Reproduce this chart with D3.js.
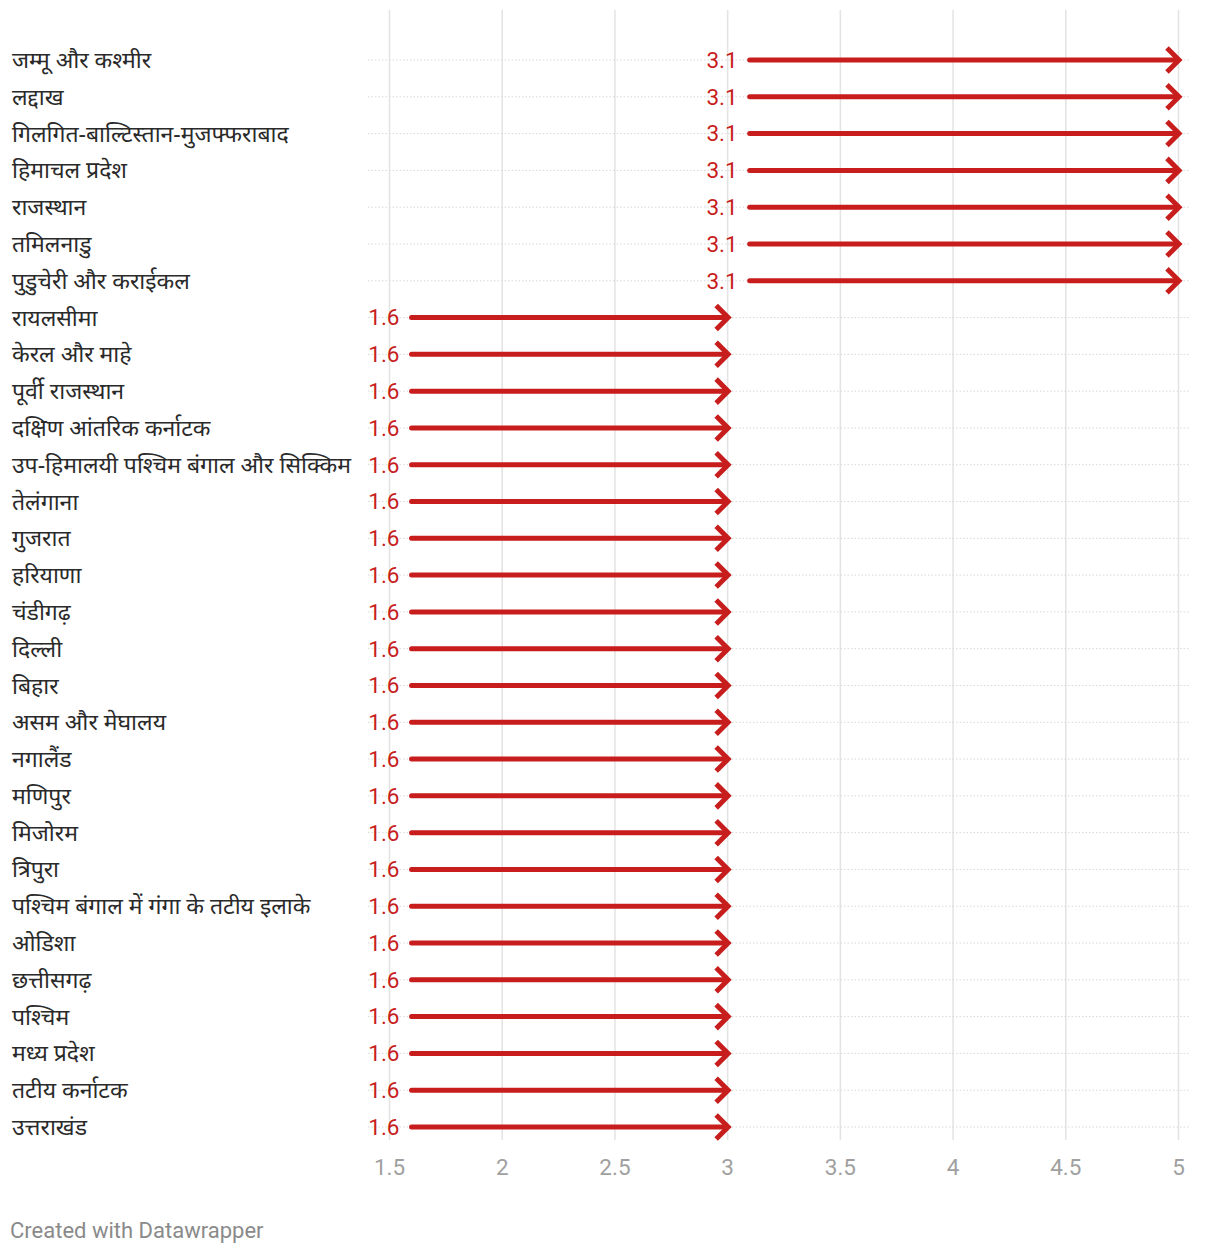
<!DOCTYPE html>
<html>
<head>
<meta charset="utf-8">
<script src="https://cdn.jsdelivr.net/npm/d3@7"></script>
<style>
  body { margin: 0; background: #fff; }
  svg text { font-family: Roboto, "Noto Sans", "DejaVu Sans", sans-serif; }
</style>
</head>
<body>
<svg id="chart"></svg>
<script>
const regions = [
    "जम्मू और कश्मीर", "लद्दाख", "गिलगित-बाल्टिस्तान-मुजफ्फराबाद", "हिमाचल प्रदेश",
    "राजस्थान", "तमिलनाडु", "पुडुचेरी और कराईकल", "रायलसीमा", "केरल और माहे",
    "पूर्वी राजस्थान", "दक्षिण आंतरिक कर्नाटक", "उप-हिमालयी पश्चिम बंगाल और सिक्किम",
    "तेलंगाना", "गुजरात", "हरियाणा", "चंडीगढ़", "दिल्ली", "बिहार", "असम और मेघालय",
    "नगालैंड", "मणिपुर", "मिजोरम", "त्रिपुरा", "पश्चिम बंगाल में गंगा के तटीय इलाके",
    "ओडिशा", "छत्तीसगढ़", "पश्चिम", "मध्य प्रदेश", "तटीय कर्नाटक", "उत्तराखंड"
];
const startValues = [3.1, 3.1, 3.1, 3.1, 3.1, 3.1, 3.1,
    1.6, 1.6, 1.6, 1.6, 1.6, 1.6, 1.6, 1.6, 1.6, 1.6, 1.6, 1.6,
    1.6, 1.6, 1.6, 1.6, 1.6, 1.6, 1.6, 1.6, 1.6, 1.6, 1.6];
const endValues = [5, 5, 5, 5, 5, 5, 5,
    3, 3, 3, 3, 3, 3, 3, 3, 3, 3, 3, 3,
    3, 3, 3, 3, 3, 3, 3, 3, 3, 3, 3];
const xTicks = [1.5, 2, 2.5, 3, 3.5, 4, 4.5, 5];

const width = 1220, height = 1254;
const red = "#c71e1d";

const svg = d3.select("#chart")
    .attr("width", width)
    .attr("height", height)
    .attr("viewBox", [0, 0, width, height]);

// scales
const x_scale = d3.scaleLinear().domain([1.5, 5]).range([389, 1178]);
const y_scale = d3.scalePoint().domain(regions).range([60, 1127]);

// vertical grid lines
const gGrid = svg.append("g")
    .attr("transform", "translate(0, 1140)")
    .call(d3.axisBottom(x_scale).tickValues(xTicks).tickSize(-1130).tickFormat(""))
gGrid.select(".domain").remove();
gGrid.selectAll("line").attr("stroke", "#e3e3e3").attr("stroke-width", 1.5);

// x axis labels
const gX = svg.append("g")
    .attr("transform", "translate(0, 1167)")
    .call(d3.axisBottom(x_scale).tickValues(xTicks).tickSize(0).tickPadding(0).tickFormat(d3.format("")))
gX.select(".domain").remove();
gX.selectAll("text")
    .attr("dy", "0.35em")
    .attr("fill", "#a0a0a0")
    .style("font-size", "22.5px")
    .style("font-family", "Roboto, sans-serif");

// dotted row lines
svg.append("g").selectAll("line")
    .data(regions)
    .join("line")
    .attr("x1", 368).attr("x2", 1190)
    .attr("y1", d => y_scale(d)).attr("y2", d => y_scale(d))
    .attr("stroke", "#d8d8d8")
    .attr("stroke-width", 1)
    .attr("stroke-dasharray", "1.5,2");

// row labels
svg.append("g").selectAll("text")
    .data(regions)
    .join("text")
    .attr("x", 12)
    .attr("y", d => y_scale(d))
    .attr("dy", "0.35em")
    .attr("fill", "#2a2a2a")
    .style("font-family", "'Noto Sans', Roboto, sans-serif")
    .style("font-weight", 400)
    .style("font-size", "23px")
    .text(d => d);

// arrows
const rows = regions.map((r, i) => ({ name: r, start: startValues[i], end: endValues[i] }));
const gArrows = svg.append("g");
rows.forEach(d => {
    const y = y_scale(d.name);
    const x0 = x_scale(d.start), x1 = x_scale(d.end);
    gArrows.append("line")
        .attr("x1", x0).attr("x2", x1 - 2)
        .attr("y1", y).attr("y2", y)
        .attr("stroke", red)
        .attr("stroke-width", 5)
        .attr("stroke-linecap", "round");
    // arrow head
    gArrows.append("path")
        .attr("d", `M${x1 - 11},${y - 12} L${x1 + 1},${y} L${x1 - 11},${y + 12}`)
        .attr("fill", "none")
        .attr("stroke", red)
        .attr("stroke-width", 5)
        .attr("stroke-linejoin", "miter");
    // value label
    gArrows.append("text")
        .attr("x", x0 - 12)
        .attr("y", y)
        .attr("dy", "0.35em")
        .attr("text-anchor", "end")
        .attr("fill", red)
        .style("font-size", "22.5px")
        .text(d.start.toFixed(1));
});

// footer
svg.append("text")
    .attr("x", 10)
    .attr("y", 1238)
    .attr("fill", "#8a8a8a")
    .style("font-size", "22px")
    .text("Created with Datawrapper");
</script>
</body>
</html>
